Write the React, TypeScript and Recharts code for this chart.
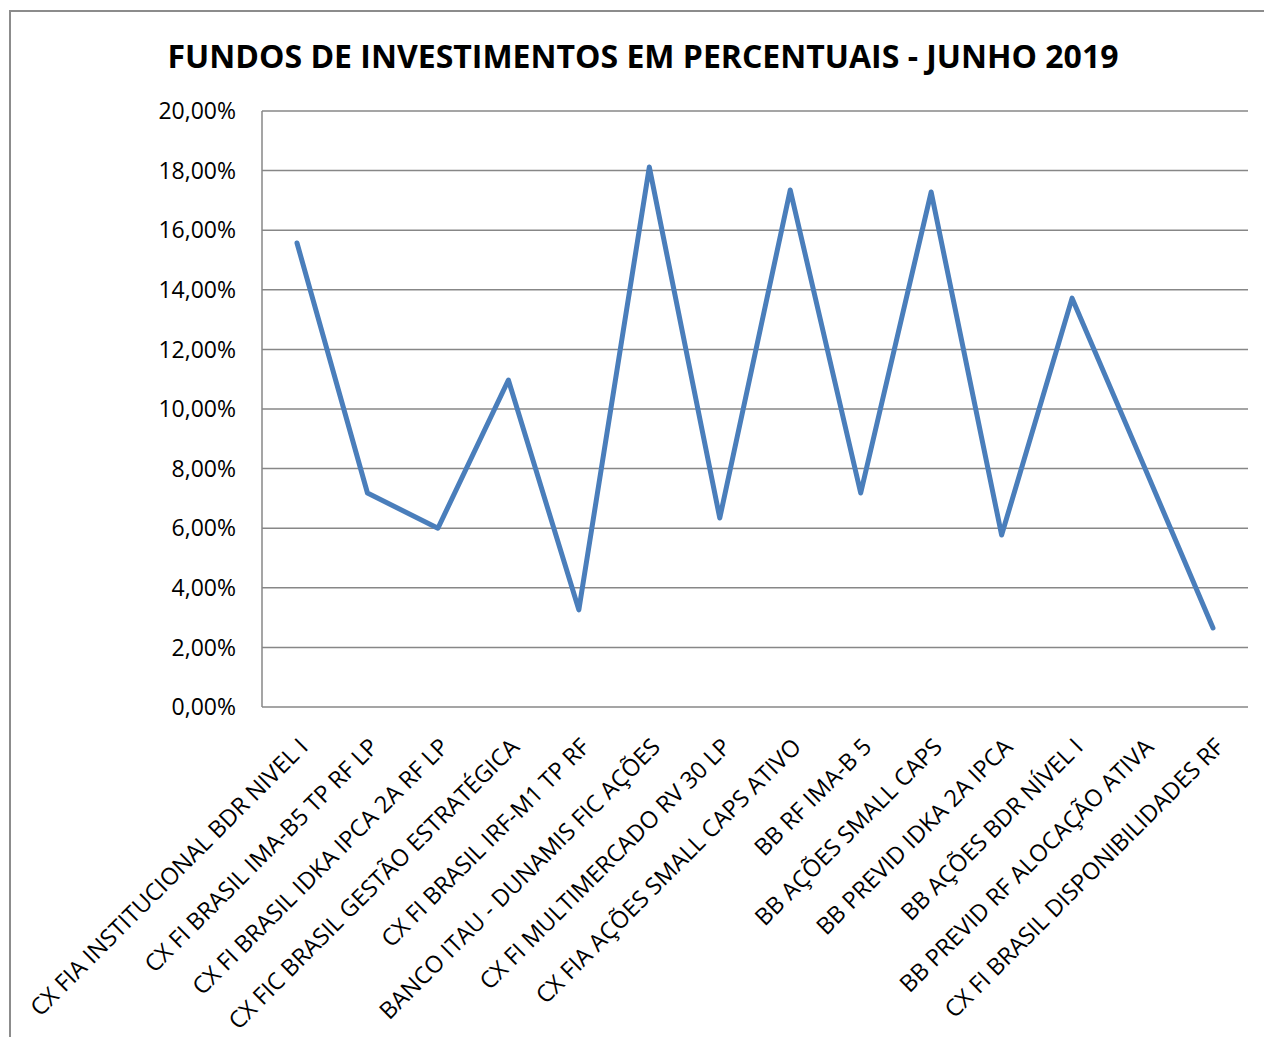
import React from "react";
import { LineChart, Line, XAxis, YAxis, CartesianGrid } from "recharts";

const funds = [
  "CX FIA INSTITUCIONAL BDR NIVEL I",
  "CX FI BRASIL IMA-B5 TP RF LP",
  "CX FI BRASIL IDKA IPCA 2A RF LP",
  "CX FIC BRASIL GESTÃO ESTRATÉGICA",
  "CX FI BRASIL IRF-M1 TP RF",
  "BANCO ITAU - DUNAMIS FIC AÇÕES",
  "CX FI MULTIMERCADO RV 30 LP",
  "CX FIA AÇÕES SMALL CAPS ATIVO",
  "BB RF IMA-B 5",
  "BB AÇÕES SMALL CAPS",
  "BB PREVID IDKA 2A IPCA",
  "BB AÇÕES BDR NÍVEL I",
  "BB PREVID RF ALOCAÇÃO ATIVA",
  "CX FI BRASIL DISPONIBILIDADES RF",
];

const percents = [
  15.57, 7.18, 6.0, 10.97, 3.26, 18.12, 6.34, 17.35, 7.18, 17.28, 5.77, 13.72,
  8.2, 2.65,
];

const yTicks = [0, 2, 4, 6, 8, 10, 12, 14, 16, 18, 20];

const data = funds.map((name, i) => ({ name, value: percents[i] }));

const FONT = "'Open Sans', sans-serif";

const fmt = (v: number) => `${v.toFixed(2).replace(".", ",")}%`;

function FundTick(props: any) {
  const { x, payload } = props;
  const ax = x + 6;
  const ay = 742;
  return (
    <text
      x={ax}
      y={ay}
      textAnchor="end"
      dominantBaseline="central"
      transform={`rotate(-45 ${ax} ${ay})`}
      fontSize={23.5}
      fontFamily={FONT}
      fill="#000"
    >
      {payload.value}
    </text>
  );
}

export default function App() {
  return (
    <div
      style={{
        position: "absolute",
        left: 0,
        top: 0,
        width: 1264,
        height: 1037,
        background: "#fff",
        overflow: "hidden",
      }}
    >
      <div
        style={{
          position: "absolute",
          left: 9,
          top: 10,
          width: 1400,
          height: 1200,
          border: "2px solid #8c8c8c",
        }}
      />
      <div
        style={{
          position: "absolute",
          left: 0,
          top: 34,
          width: 1286,
          textAlign: "center",
          fontFamily: FONT,
          fontWeight: 700,
          fontSize: 32,
          color: "#000",
          lineHeight: "44px",
        }}
      >
        FUNDOS DE INVESTIMENTOS EM PERCENTUAIS - JUNHO 2019
      </div>
      <LineChart
        width={1264}
        height={1037}
        data={data}
        margin={{ top: 111, right: 16, left: 182, bottom: 0 }}
        style={{ position: "absolute", left: 0, top: 0 }}
      >
        <CartesianGrid vertical={false} stroke="#878787" strokeWidth={1.5} />
        <XAxis
          dataKey="name"
          interval={0}
          height={330}
          axisLine={false}
          tickLine={false}
          padding={{ left: 35, right: 35 }}
          tick={<FundTick />}
        />
        <YAxis
          width={80}
          domain={[0, 20]}
          ticks={yTicks}
          interval={0}
          tickFormatter={fmt}
          axisLine={{ stroke: "#878787", strokeWidth: 1.5 }}
          tickLine={false}
          tickMargin={20}
          tick={{ fontSize: 23, fontFamily: FONT, fill: "#000" }}
        />
        <Line
          type="linear"
          dataKey="value"
          stroke="#4a7ebb"
          strokeWidth={5}
          dot={false}
          strokeLinecap="round"
          strokeLinejoin="round"
          isAnimationActive={false}
        />
      </LineChart>
    </div>
  );
}
